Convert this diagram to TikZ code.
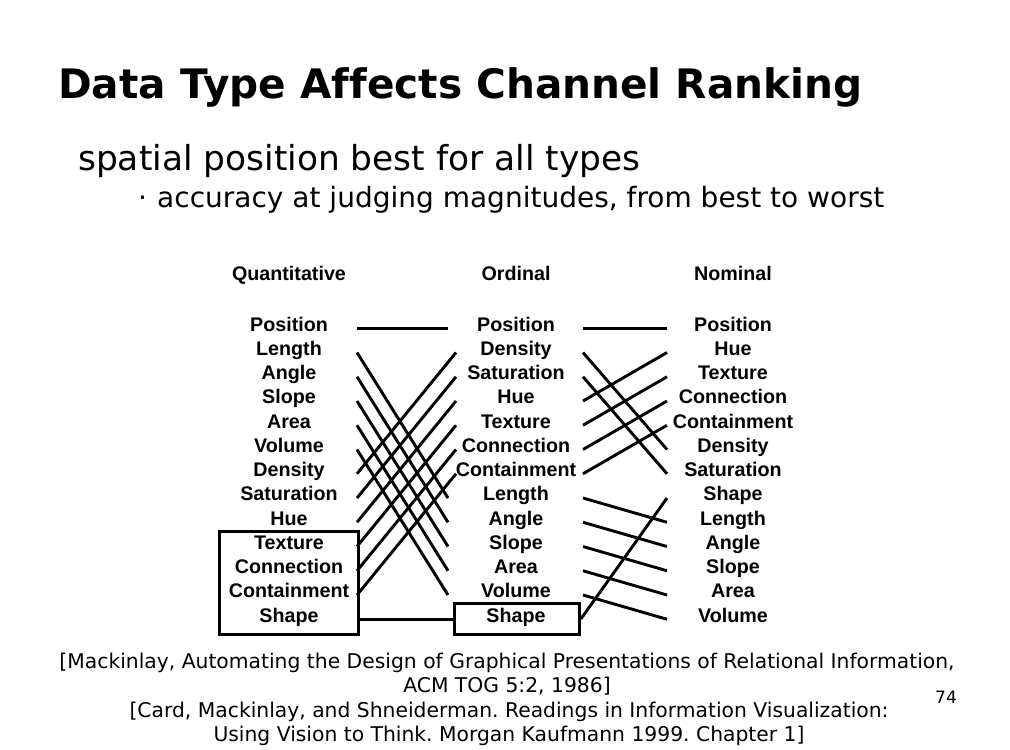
\documentclass[tikz,border=0pt]{standalone}
\usepackage{fontspec}
\setmainfont{DejaVu Sans}[Ligatures=NoCommon]
\newfontfamily\diagfont{Liberation Sans}
\frenchspacing
\begin{document}
\begin{tikzpicture}[x=1pt,y=-1pt]
\tikzset{
  lbl/.style={font=\diagfont\bfseries\fontsize{19.7}{21}\selectfont, inner sep=0pt, anchor=base},
  conn/.style={line width=2.9pt},
  frame/.style={draw, line width=2.9pt, inner sep=0pt, anchor=north west},
  slide/.style={inner sep=0pt, anchor=base west},
  foot/.style={inner sep=0pt, anchor=base, font=\fontsize{20.3}{22}\selectfont}
}
\useasboundingbox (0,0) rectangle (1010,750);
\fill[white] (0,0) rectangle (1010,750);

% slide texts
\node[slide, font=\bfseries\fontsize{40.6}{44}\selectfont] (title) at (58,98) {Data Type Affects Channel Ranking};
\node[slide, font=\fontsize{34.4}{38}\selectfont] (sub) at (78,170) {spatial position best for all types};
\node[slide, font=\fontsize{28}{32}\selectfont] (dot) at (138,207) {·};
\node[slide, font=\fontsize{28}{32}\selectfont] (bul) at (157,207) {accuracy at judging magnitudes, from best to worst};

% headers
\node[lbl] (hq) at (289,280) {Quantitative};
\node[lbl] (ho) at (516,280) {Ordinal};
\node[lbl] (hn) at (733,280) {Nominal};

% columns
\foreach \t [count=\i] in {Position,Length,Angle,Slope,Area,Volume,Density,Saturation,Hue,Texture,Connection,Containment,Shape}
  \node[lbl] (q\i) at (289,{331+24.25*(\i-1)}) {\t};
\foreach \t [count=\i] in {Position,Density,Saturation,Hue,Texture,Connection,Containment,Length,Angle,Slope,Area,Volume,Shape}
  \node[lbl] (o\i) at (516,{331+24.25*(\i-1)}) {\t};
\foreach \t [count=\i] in {Position,Hue,Texture,Connection,Containment,Density,Saturation,Shape,Length,Angle,Slope,Area,Volume}
  \node[lbl] (n\i) at (733,{331+24.25*(\i-1)}) {\t};

% boxes
\node[frame, minimum width=139pt, minimum height=103pt] (qbox) at (218,530) {};
\node[frame, minimum width=125pt, minimum height=31pt] (obox) at (453,602) {};

% anchor columns
\coordinate (QR) at (357,0);
\coordinate (OLd) at (448,0);
\coordinate (OLu) at (456,0);
\coordinate (OR) at (583,0);
\coordinate (NL) at (667,0);

% Quantitative -> Ordinal
\draw[conn] (q1.mid -| QR) -- (o1.mid -| OLd);
\foreach \a/\b in {2/8,3/9,4/10,5/11,6/12}
  \draw[conn] (q\a.mid -| QR) -- (o\b.mid -| OLd);
\foreach \a/\b in {7/2,8/3,9/4,10/5,11/6,12/7}
  \draw[conn] (q\a.mid -| QR) -- (o\b.mid -| OLu);
\draw[conn] (qbox.east |- q13.mid) -- (obox.west |- q13.mid);

% Ordinal -> Nominal
\draw[conn] (o1.mid -| OR) -- (n1.mid -| NL);
\foreach \a/\b in {2/6,3/7,4/2,5/3,6/4,7/5,8/9,9/10,10/11,11/12,12/13}
  \draw[conn] (o\a.mid -| OR) -- (n\b.mid -| NL);
\draw[conn] (obox.east) -- (n8.mid -| NL);

% footer
\node[foot] (f1) at (507,668) {[Mackinlay, Automating the Design of Graphical Presentations of Relational Information,};
\node[foot] (f2) at (507,692) {ACM TOG 5:2, 1986]};
\node[foot] (f3) at (509,717) {[Card, Mackinlay, and Shneiderman. Readings in Information Visualization:};
\node[foot] (f4) at (509,741) {Using Vision to Think. Morgan Kaufmann 1999. Chapter 1]};
\node[foot, font=\fontsize{17}{19}\selectfont] (pg) at (946,703) {74};
\end{tikzpicture}
\end{document}
